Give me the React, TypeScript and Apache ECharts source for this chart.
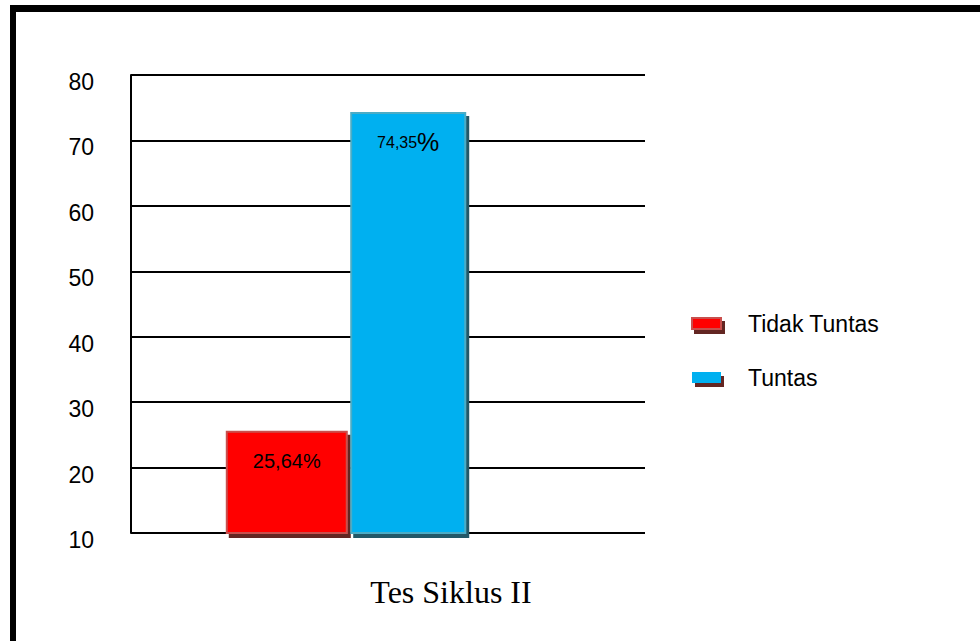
import React, { useEffect, useRef } from "react";
import * as echarts from "echarts";

const categories = ["Tes Siklus II"];
const seriesNames = ["Tidak Tuntas", "Tuntas"];
const tidakTuntas = [25.64];
const tuntas = [74.35];
const yMin = 10;
const yMax = 80;
const yInterval = 10;
const xTitle = "Tes Siklus II";

export default function App() {
  const ref = useRef<HTMLDivElement>(null);
  useEffect(() => {
    if (!ref.current) return;
    const chart = echarts.init(ref.current, undefined, { renderer: "svg" });
    const font = "Liberation Sans, Arial, sans-serif";
    chart.setOption({
      animation: false,
      backgroundColor: "#ffffff",
      legend: {
        orient: "vertical",
        left: 686,
        top: 307,
        itemWidth: 29,
        itemHeight: 11,
        itemGap: 31,
        icon: "rect",
        data: [
          { name: seriesNames[0], itemStyle: { color: "#ff0000", borderColor: "#c9504d", borderWidth: 2, shadowColor: "#632523", shadowOffsetX: 3, shadowOffsetY: 4, shadowBlur: 0 } },
          { name: seriesNames[1], itemStyle: { color: "#00b0f0", borderColor: "#00b0f0", borderWidth: 0, shadowColor: "#632523", shadowOffsetX: 3, shadowOffsetY: 4, shadowBlur: 0 } },
        ],
        textStyle: { fontFamily: font, fontSize: 23, color: "#000", padding: [0, 0, 0, 22] },
      },
      grid: [
        { left: 131, right: 335, top: 75, bottom: 108, containLabel: false },
        { left: 131, right: 419, top: 75, bottom: 108, containLabel: false },
      ],
      xAxis: [
        { type: "category", gridIndex: 0, data: categories, axisLine: { show: false }, axisTick: { show: false }, axisLabel: { show: false } },
        { type: "category", gridIndex: 1, data: categories, axisLine: { show: false }, axisTick: { show: false }, axisLabel: { show: false } },
      ],
      yAxis: [
        {
          type: "value",
          gridIndex: 0,
          min: yMin,
          max: yMax,
          interval: yInterval,
          axisLine: { show: true, lineStyle: { color: "#000", width: 2 } },
          axisTick: { show: false },
          splitLine: { show: true, lineStyle: { color: "#000", width: 2 } },
          axisLabel: { fontFamily: font, fontSize: 23, color: "#000", margin: 37, verticalAlign: "top", lineHeight: 14 },
        },
        {
          type: "value",
          gridIndex: 1,
          min: yMin,
          max: yMax,
          interval: yInterval,
          show: false,
          splitLine: { show: false },
        },
      ],
      series: [
        {
          name: seriesNames[0],
          type: "bar",
          xAxisIndex: 1,
          yAxisIndex: 1,
          data: tidakTuntas,
          barWidth: 122,
          barGap: "2%",
          itemStyle: { color: "#ff0000", borderColor: "#c9504d", borderWidth: 2, shadowColor: "#632523", shadowOffsetX: 3, shadowOffsetY: 4, shadowBlur: 0 },
          label: {
            show: true,
            position: "insideTop",
            distance: 20,
            fontFamily: font,
            fontSize: 20,
            color: "#000",
            formatter: (p: any) => String(p.value).replace(".", ",") + "%",
          },
        },
        {
          name: seriesNames[1],
          type: "bar",
          xAxisIndex: 1,
          yAxisIndex: 1,
          data: tuntas,
          barWidth: 116,
          barGap: "2%",
          itemStyle: { color: "#00b0f0", borderColor: "#4bacc6", borderWidth: 2, shadowColor: "#215868", shadowOffsetX: 3, shadowOffsetY: 4, shadowBlur: 0 },
          label: {
            show: true,
            position: "insideTop",
            distance: 18,
            fontFamily: font,
            color: "#000",
            formatter: (p: any) => "{a|" + String(p.value).replace(".", ",") + "}{b|%}",
            rich: {
              a: { fontFamily: font, fontSize: 16, color: "#000" },
              b: { fontFamily: font, fontSize: 25, color: "#000" },
            },
          },
        },
      ],
      graphic: [
        { type: "rect", left: 10, top: 5, shape: { width: 970, height: 7 }, style: { fill: "#000" }, silent: true },
        { type: "rect", left: 10, top: 5, shape: { width: 6, height: 636 }, style: { fill: "#000" }, silent: true },
        {
          type: "text",
          x: 451,
          y: 592,
          style: {
            text: xTitle,
            font: "32px 'Liberation Serif', 'Times New Roman', serif",
            fill: "#000",
            textAlign: "center",
            textVerticalAlign: "middle",
          },
        },
      ],
    });
    return () => chart.dispose();
  }, []);
  return <div ref={ref} style={{ position: "fixed", left: 0, top: 0, width: 980, height: 641 }} />;
}
